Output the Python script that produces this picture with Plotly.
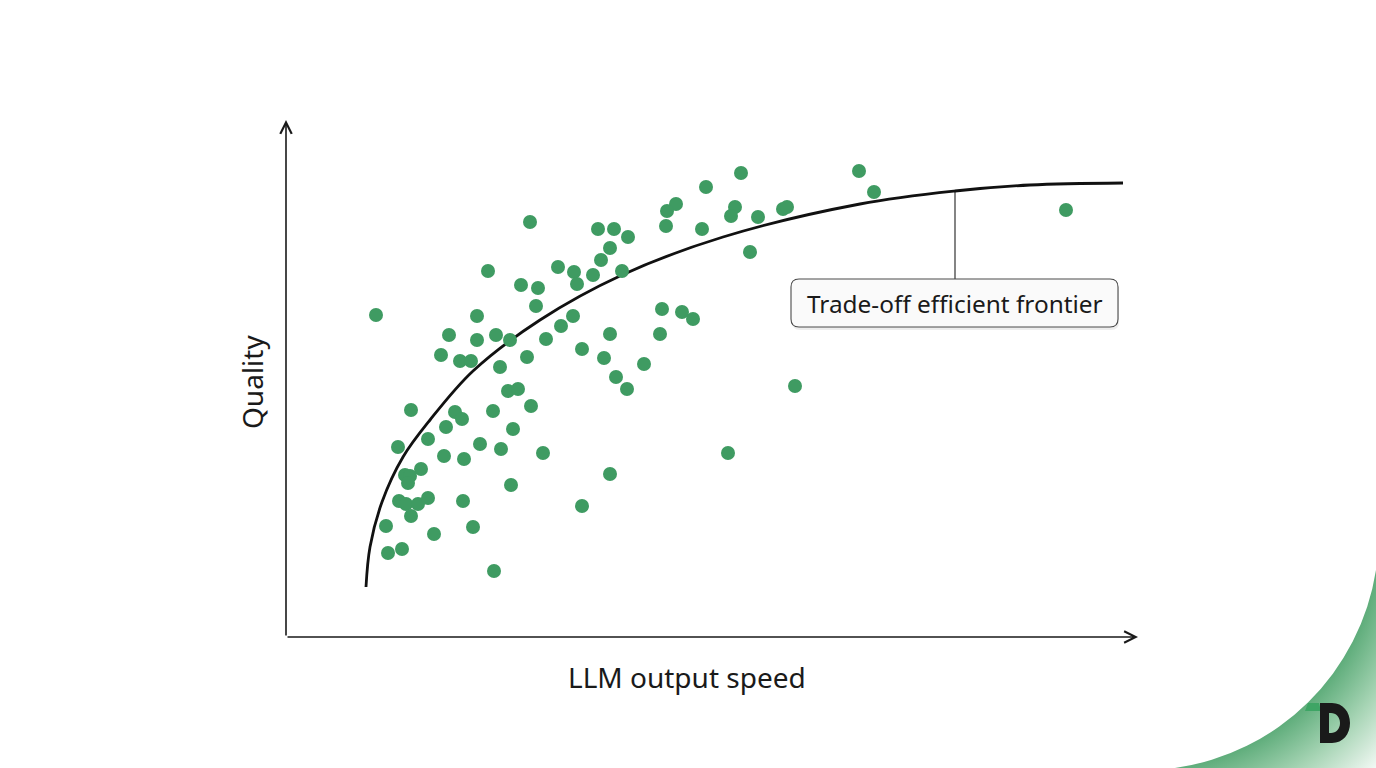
import base64
import plotly.graph_objects as go

# scatter of models (arbitrary units)
speed = [455, 420, 390, 381, 380, 416, 449, 445, 472, 497, 501, 464,
         312, 328, 342, 324, 315, 272, 288, 291, 307, 336, 287, 275,
         324, 296, 318, 330, 358, 376, 396, 407, 374, 260, 341, 509,
         257, 442, 324, 296, 244, 202, 235, 252, 250, 191, 163, 191,
         210, 224, 155, 174, 185, 214, 241, 222, 232, 125, 112, 142,
         160, 169, 176, 207, 245, 227, 194, 215, 158, 178, 135, 119,
         124, 122, 113, 120, 132, 142, 125, 177, 225, 100, 148, 187,
         102, 116, 208, 90, 573, 588, 780]
quality = [464, 450, 433, 426, 411, 408, 430, 421, 420, 428, 430, 385,
           408, 408, 400, 389, 377, 370, 365, 353, 362, 366, 321, 311,
           303, 288, 279, 260, 273, 328, 325, 318, 303, 298, 248, 251,
           184, 184, 163, 131, 415, 366, 352, 349, 331, 321, 302, 297,
           302, 297, 282, 276, 276, 270, 280, 246, 248, 227, 190, 198,
           210, 225, 218, 226, 231, 208, 193, 188, 181, 178, 168, 162,
           161, 154, 136, 133, 133, 139, 121, 136, 152, 111, 103, 110,
           84, 88, 66, 322, 466, 445, 427]

# frontier curve
frontier_speed = [80, 84, 96, 117, 144, 187, 254, 336, 437, 574, 669, 744, 837]
frontier_quality = [50, 90, 135, 180, 217, 266, 317, 362, 400, 433, 446, 452, 454]

W, H = 1376, 768
GREEN = "#3f9b62"
INK = "#1a1a1a"
FONT = "Noto Sans"

# corner decoration (gradient swoosh + logo) as an svg background image
svg = f"""<svg xmlns='http://www.w3.org/2000/svg' width='{W}' height='{H}' viewBox='0 0 {W} {H}'>
<defs><radialGradient id='g' gradientUnits='userSpaceOnUse' cx='1142' cy='533' r='332'>
<stop offset='0.714' stop-color='#5fad7b'/>
<stop offset='0.85' stop-color='#a6d4b4'/>
<stop offset='1' stop-color='#f3f9f5'/>
</radialGradient></defs>
<path d='M1175,768 A237,237 0 0 0 1376,570 L1376,768 Z' fill='url(#g)'/>
<path d='M1308,703 L1319,703 L1321,711 L1305,711 Z' fill='#3ea565'/>
<path fill-rule='evenodd' fill='{INK}' d='M1320,703 L1332,703 C1343,703 1350,712 1350,723 C1350,734 1343,743 1332,743 L1320,743 Z M1329,713 L1331,713 C1336,713 1340,717 1340,723 C1340,729 1336,733 1331,733 L1329,733 Z'/>
</svg>"""
svg_uri = "data:image/svg+xml;base64," + base64.b64encode(svg.encode()).decode()

fig = go.Figure()

fig.add_trace(go.Scatter(
    x=frontier_speed, y=frontier_quality, mode="lines",
    line=dict(color="#111111", width=2.8, shape="spline", smoothing=1.0),
    hoverinfo="skip", cliponaxis=False,
))
fig.add_trace(go.Scatter(
    x=speed, y=quality, mode="markers",
    marker=dict(size=14, color=GREEN, line=dict(width=0)),
    cliponaxis=False,
))

# label box with rounded corners + connector to the curve
x0, x1, y0, y1, r = 505, 832, 310, 358, 8
def rounded(ax0, ax1, ay0, ay1):
    return (f"M{ax0+r},{ay0} L{ax1-r},{ay0} Q{ax1},{ay0} {ax1},{ay0+r} L{ax1},{ay1-r} "
            f"Q{ax1},{ay1} {ax1-r},{ay1} L{ax0+r},{ay1} Q{ax0},{ay1} {ax0},{ay1-r} "
            f"L{ax0},{ay0+r} Q{ax0},{ay0} {ax0+r},{ay0} Z")

fig.add_shape(type="path", path=rounded(x0 + 1, x1 + 1, y0 - 3, y1 - 3), xref="x", yref="y",
              fillcolor="rgba(0,0,0,0.07)", line=dict(width=0), layer="above")
fig.add_shape(type="path", path=rounded(x0, x1, y0, y1), xref="x", yref="y",
              fillcolor="#fafafa", line=dict(color="#4a4a4a", width=1.1), layer="above")
fig.add_shape(type="line", x0=669, x1=669, y0=y1, y1=446, xref="x", yref="y",
              line=dict(color="#333333", width=1.2), layer="below")
fig.add_annotation(x=(x0 + x1) / 2, y=(y0 + y1) / 2, xref="x", yref="y",
                   text="Trade-off efficient frontier", showarrow=False,
                   font=dict(family=FONT, size=24.4, color=INK))

# axis lines with open arrow heads
for tip in [(852, 0), (0, 517)]:
    fig.add_annotation(x=tip[0], y=tip[1], ax=0, ay=0,
                       xref="x", yref="y", axref="x", ayref="y", text="",
                       showarrow=True, arrowhead=5, arrowsize=1.4,
                       arrowwidth=1.6, arrowcolor=INK)

fig.add_annotation(x=687 / W, y=1 - 677 / H, xref="paper", yref="paper",
                   xanchor="center", yanchor="middle",
                   text="LLM output speed", showarrow=False,
                   font=dict(family=FONT, size=28, color=INK))
fig.add_annotation(x=252 / W, y=1 - 382 / H, xref="paper", yref="paper",
                   xanchor="center", yanchor="middle",
                   text="Quality", textangle=-90, showarrow=False,
                   font=dict(family=FONT, size=28, color=INK))

fig.update_layout(
    width=W, height=H,
    margin=dict(l=0, r=0, t=0, b=0),
    paper_bgcolor="white", plot_bgcolor="rgba(0,0,0,0)",
    showlegend=False,
    xaxis=dict(domain=[286 / W, 1138 / W], range=[0, 852], visible=False, fixedrange=True),
    yaxis=dict(domain=[131 / H, 648 / H], range=[0, 517], visible=False, fixedrange=True),
    images=[dict(source=svg_uri, xref="paper", yref="paper", x=0, y=1,
                 sizex=1, sizey=1, sizing="stretch", xanchor="left",
                 yanchor="top", layer="below")],
)

fig.write_html("out.html", config={"displayModeBar": False},
               post_script="document.body.style.margin='0';")
